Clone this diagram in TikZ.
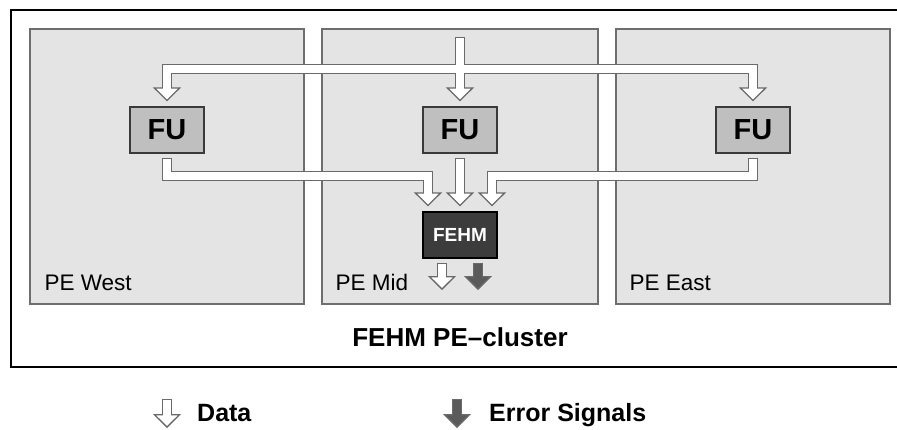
\documentclass[tikz,border=0pt]{standalone}
\usepackage{fontspec}
\setmainfont{Liberation Sans}
\usetikzlibrary{arrows.meta, positioning}

\definecolor{panelfill}{HTML}{E4E4E4}
\definecolor{peline}{HTML}{6E6E6E}
\definecolor{fufill}{HTML}{BFBFBF}
\definecolor{fuline}{HTML}{3A3A3A}
\definecolor{fehmfill}{HTML}{3C3C3C}
\definecolor{pipeline}{HTML}{6A6A6A}
\definecolor{errfill}{HTML}{5A5A5A}

\begin{document}
\begin{tikzpicture}[
x=1pt, y=-1pt,
pe/.style={rectangle, draw=peline, fill=panelfill, line width=1.2pt, minimum height=275pt, inner sep=0},
fu/.style={rectangle, draw=fuline, fill=fufill, line width=1.2pt, minimum width=74pt, minimum height=46pt, inner sep=0, font=\fontsize{29}{32}\selectfont\bfseries},
fehmbox/.style={rectangle, draw=black, fill=fehmfill, line width=1.2pt, minimum width=74pt, minimum height=46pt, inner sep=0, text=white, font=\fontsize{19}{22}\selectfont\bfseries},
pelabel/.style={inner sep=0, font=\fontsize{22.5}{26}\selectfont},
legend/.style={inner sep=0, anchor=base west, font=\fontsize{25}{28}\selectfont\bfseries},
pipe/.style={draw=pipeline, line width=10pt, line join=miter, -{Triangle[length=14pt, width=28pt, line width=1.3pt, fill=#1]}},
pipe/.default=white,
core/.style={draw=#1, line width=7.4pt, line join=miter},
core/.default=white
]
\useasboundingbox (0,0) rectangle (897,429);
\draw[line width=2pt] (11,10) rectangle (900,367);

% the three PEs of the cluster
\node[pe, minimum width=274pt] (west) at (167,166.5) {};
\node[pe, minimum width=276pt] (mid) at (460,166.5) {};
\node[pe, minimum width=274pt] (east) at (753,166.5) {};
\node[pelabel, above right=14pt and 15pt of west.south west] (lwest) {PE West};
\node[pelabel, above right=14pt and 14pt of mid.south west] (lmid) {PE Mid};
\node[pelabel, above right=14pt and 14pt of east.south west] (least) {PE East};
\node[inner sep=0, font=\fontsize{26}{30}\selectfont\bfseries] (title) at (460,337) {FEHM PE--cluster};

\node[fu] (fuw) at (167,130) {FU};
\node[fu] (fum) at (460,130) {FU};
\node[fu] (fue) at (753,130) {FU};
\node[fehmbox] (fehm) at (460,235) {FEHM};

\coordinate (in) at (460,37);
\coordinate (bar) at (460,69);
\coordinate (jw) at (428,176);
\coordinate (je) at (492,176);
\coordinate (od) at (442,290);
\coordinate (oe) at (478,290);

% input fanned out to the FUs
\draw[pipe, shorten >=5pt] (in) -- (bar) -| (fuw);
\draw[pipe, shorten >=5pt] (in) -- (bar) -| (fue);
\draw[pipe, shorten >=5pt] (in) -- (fum);
\draw[core, shorten <=1.3pt, shorten >=17.5pt] (in) -- (bar) -| (fuw);
\draw[core, shorten <=1.3pt, shorten >=17.5pt] (in) -- (bar) -| (fue);
\draw[core, shorten <=1.3pt, shorten >=17.5pt] (in) -- (fum);

% FU results into the FEHM
\draw[pipe, shorten <=4pt, shorten >=5pt] (fuw) |- (jw) -- (jw |- fehm.north);
\draw[pipe, shorten <=4pt, shorten >=5pt] (fum) -- (fehm);
\draw[pipe, shorten <=4pt, shorten >=5pt] (fue) |- (je) -- (je |- fehm.north);
\draw[core, shorten <=5.3pt, shorten >=17.5pt] (fuw) |- (jw) -- (jw |- fehm.north);
\draw[core, shorten <=5.3pt, shorten >=17.5pt] (fum) -- (fehm);
\draw[core, shorten <=5.3pt, shorten >=17.5pt] (fue) |- (je) -- (je |- fehm.north);

% FEHM outputs
\draw[pipe, shorten <=4pt] ([xshift=-18pt]fehm.south) -- (od);
\draw[pipe=errfill, shorten <=4pt] ([xshift=18pt]fehm.south) -- (oe);
\draw[core, shorten <=5.3pt, shorten >=12.5pt] ([xshift=-18pt]fehm.south) -- (od);
\draw[core=errfill, shorten <=5.3pt, shorten >=12.5pt] ([xshift=18pt]fehm.south) -- (oe);

% legend
\coordinate (ld) at (167,399);
\coordinate (ld2) at (167,428);
\coordinate (le) at (457,399);
\coordinate (le2) at (457,428);
\draw[pipe] (ld) -- (ld2);
\draw[pipe=errfill] (le) -- (le2);
\draw[core, shorten <=1.3pt, shorten >=12.5pt] (ld) -- (ld2);
\draw[core=errfill, shorten <=1.3pt, shorten >=12.5pt] (le) -- (le2);
\node[legend] (ldata) at (197,421) {Data};
\node[legend] (lerr) at (489,421) {Error Signals};
\end{tikzpicture}
\end{document}
